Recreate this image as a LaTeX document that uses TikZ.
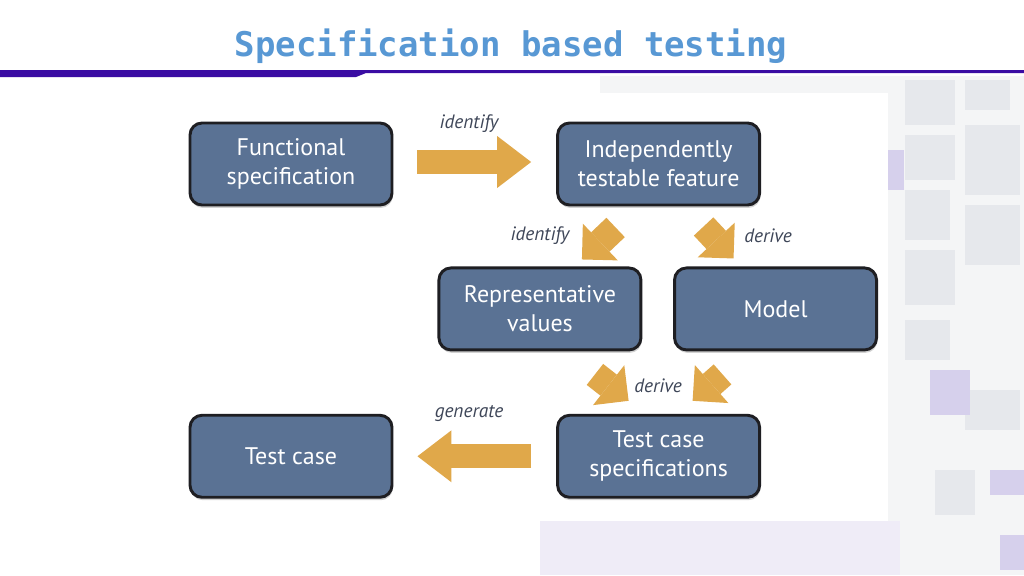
\documentclass[tikz,border=0pt]{standalone}
\usepackage{fontspec}
\setmainfont{PT Sans}
\newfontfamily\titlefont{DejaVu Sans Mono}
\usetikzlibrary{arrows.meta, positioning, calc, shadows}
\definecolor{titleblue}{RGB}{88,152,212}
\definecolor{rulepurple}{RGB}{58,12,163}
\definecolor{boxblue}{RGB}{90,114,148}
\definecolor{boxedge}{RGB}{30,30,34}
\definecolor{arroworange}{RGB}{224,168,74}
\definecolor{labelgray}{RGB}{62,70,88}
\definecolor{decogray}{RGB}{230,232,236}
\definecolor{decoviolet}{RGB}{214,208,236}

\begin{document}
\begin{tikzpicture}[
    x=0.75pt, y=0.75pt,
    % Block styles
    box/.style={
        rectangle, draw=boxedge, fill=boxblue,
        text=white, font=\fontsize{18}{21.75}\selectfont,
        minimum width=151.5pt, minimum height=61.5pt,
        align=center, rounded corners=9pt,
        line width=2.2pt,
        drop shadow={shadow xshift=0.6pt, shadow yshift=-2.2pt, opacity=0.35}
    },
    flatarrow/.style={
        draw=arroworange, line width=18pt,
        -{Triangle[length=25.5pt, width=39pt, line width=0pt]}
    },
    diagarrow/.style={
        draw=arroworange, line width=20pt,
        -{Triangle[length=19pt, width=38pt, line width=0pt]}
    },
    verb/.style={
        font=\fontsize{14.5}{16}\selectfont\itshape, text=labelgray
    },
]

% ===== BACKGROUND =====
\fill[white] (0,0) rectangle (1024,-575);
\fill[decogray!45] (600,-76) rectangle (1024,-575);
\fill[decoviolet!40] (540,-521) rectangle (900,-575);
\foreach \x/\y/\w/\h in {905/-80/50/45, 965/-80/45/30, 905/-135/50/45, 965/-125/55/70,
                         905/-190/45/50, 965/-205/55/60, 905/-250/50/55, 905/-320/45/40,
                         965/-390/55/40, 935/-470/40/45}
    \fill[decogray] (\x,\y) rectangle ++(\w,-\h);
\foreach \x/\y/\w/\h in {888/-150/16/40, 930/-370/40/45, 990/-470/34/25, 1000/-535/24/35}
    \fill[decoviolet] (\x,\y) rectangle ++(\w,-\h);
\fill[white] (150,-93) rectangle (888,-521);

% ===== TITLE =====
\node[font=\titlefont\bfseries\fontsize{25.5}{30}\selectfont, text=titleblue, anchor=base] (title) at (511,-56) {Specification based testing};
\fill[rulepurple] (0,-70) -- (1024,-70) -- (1024,-73) -- (366,-73) -- (356,-77) -- (0,-77) -- cycle;

% ===== BOXES =====
\node[box] (funcspec) at (291,-164) {Functional\\specification};
\node[box, right=122pt of funcspec] (feature) {Independently\\testable feature};
\node[box, below=45pt of feature, xshift=-89pt] (values) {Representative\\values};
\node[box, right=23pt of values] (model) {Model};
\node[box, below=155.5pt of feature] (tcspec) {Test case\\specifications};
\node[box, left=122pt of tcspec] (testcase) {Test case};

% ===== ARROWS =====
\draw[flatarrow] ($(funcspec.east)+(24,2)$) -- ($(feature.west)+(-25,2)$);
\draw[diagarrow] ($(feature.south)+(-43,-21)$) -- ($(values.north)+(42,7)$);
\draw[diagarrow] ($(feature.south)+(45,-20)$) -- ($(model.north)+(-42,8)$);
\draw[diagarrow] ($(values.south)+(55,-23)$) -- ($(tcspec.north)+(-30,13)$);
\draw[diagarrow] ($(model.south)+(-53,-23)$) -- ($(tcspec.north)+(34,13)$);
\draw[flatarrow] ($(tcspec.west)+(-25,0)$) -- ($(testcase.east)+(24,0)$);

% ===== LABELS =====
\node[verb] (lblident) at (469,-124) {identify};
\node[verb] (lblidentv) at (540,-236) {identify};
\node[verb] (lblderm) at (768,-236) {derive};
\node[verb] (lbldert) at (658,-386) {derive};
\node[verb] (lblgen) at (469,-414) {generate};

\end{tikzpicture}
\end{document}
